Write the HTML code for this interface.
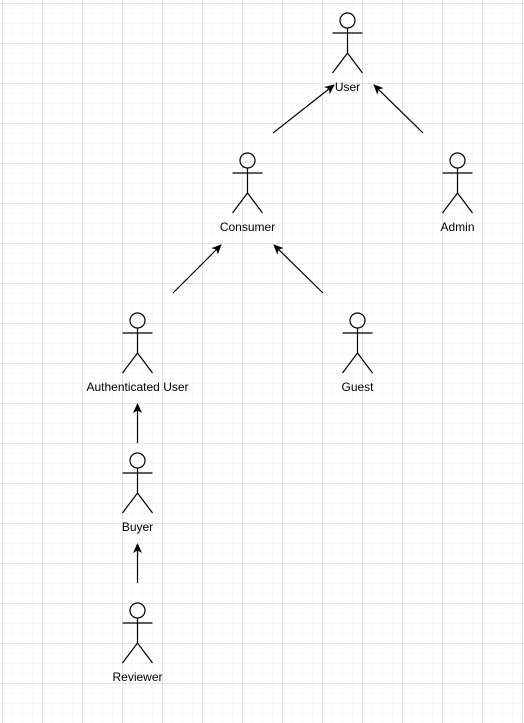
<!DOCTYPE html>
<html><head><style>
html,body{margin:0;padding:0;background:#fff;}
svg{display:block;}
text{font-family:"Liberation Sans",Arial,sans-serif;font-size:12px;fill:#000;text-anchor:middle;}
</style></head><body>
<svg width="524" height="723" viewBox="0 0 524 723" xmlns="http://www.w3.org/2000/svg">
<defs>
<pattern id="minor" x="2" y="3" width="10" height="10" patternUnits="userSpaceOnUse">
<path d="M0 0.5H10M0.5 0V10" stroke="#f8f8f8" stroke-width="1" fill="none"/>
</pattern>
<pattern id="major" x="2" y="3" width="40" height="40" patternUnits="userSpaceOnUse">
<path d="M0 0.5H40M0.5 0V40" stroke="#e2e2e2" stroke-width="1" fill="none"/>
</pattern>
<marker id="ar" markerWidth="12" markerHeight="12" refX="9" refY="5.5" orient="auto" markerUnits="userSpaceOnUse">
<path d="M0 1 L10 5.5 L0 10 L2.5 5.5 Z" fill="#000"/>
</marker>
<g id="actor" fill="none" stroke="#000" stroke-width="1.2">
<ellipse cx="0" cy="7.5" rx="7.5" ry="7.5" fill="#fff"/>
<path d="M0 15V40M-15 20H15M0 40L-15 60M0 40L15 60"/>
</g>
</defs>
<rect width="524" height="723" fill="url(#minor)"/>
<rect width="524" height="723" fill="url(#major)"/>
<use href="#actor" x="347.5" y="13"/>
<use href="#actor" x="247.5" y="153"/>
<use href="#actor" x="457.5" y="153"/>
<use href="#actor" x="137.5" y="313"/>
<use href="#actor" x="357.5" y="313"/>
<use href="#actor" x="137.5" y="453"/>
<use href="#actor" x="137.5" y="603"/>
<text x="347.5" y="91">User</text>
<text x="247.5" y="231">Consumer</text>
<text x="457.5" y="231">Admin</text>
<text x="137.5" y="391">Authenticated User</text>
<text x="357.5" y="391">Guest</text>
<text x="137.5" y="531">Buyer</text>
<text x="137.5" y="681">Reviewer</text>
<g stroke="#000" stroke-width="1.2" marker-end="url(#ar)">
<line x1="273" y1="133" x2="334" y2="85"/>
<line x1="423" y1="133" x2="374" y2="85"/>
<line x1="173" y1="293" x2="221" y2="245"/>
<line x1="323" y1="293" x2="274" y2="245"/>
<line x1="137.5" y1="443" x2="137.5" y2="404"/>
<line x1="137.5" y1="583" x2="137.5" y2="544"/>
</g>
</svg>
</body></html>
